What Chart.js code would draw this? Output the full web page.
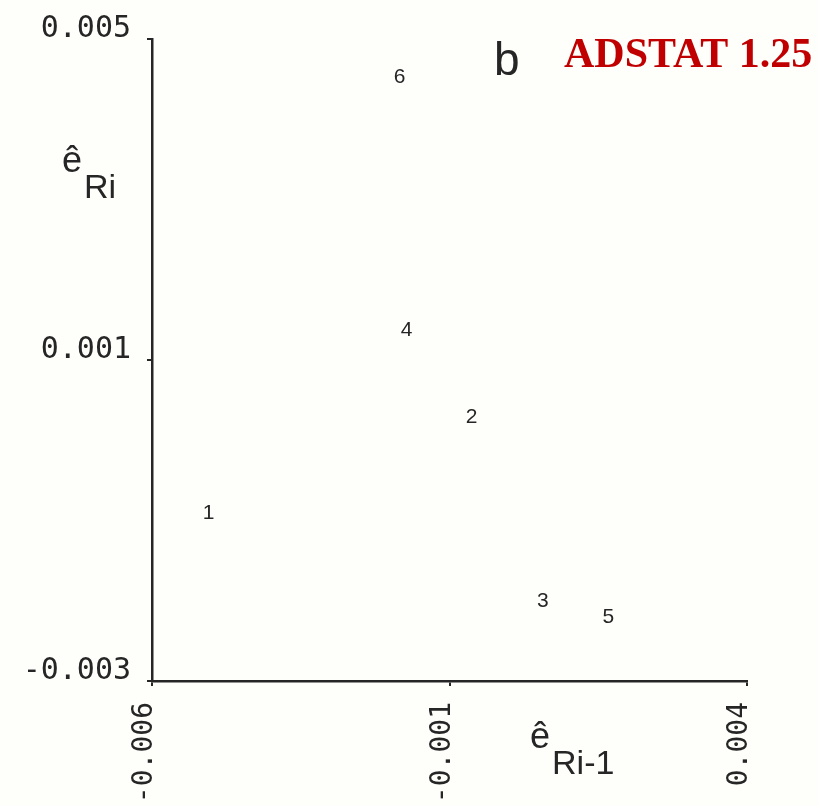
<!DOCTYPE html>
<html>
<head>
<meta charset="utf-8">
<style>
  html, body { margin: 0; padding: 0; background: #fefefb; }
  #wrap { width: 818px; height: 806px; }
</style>
<script src="https://cdn.jsdelivr.net/npm/chart.js@4.4.1/dist/chart.umd.min.js"></script>
</head>
<body>
<div id="wrap"><canvas id="c" width="818" height="806"></canvas></div>
<script>
// Residual vs. lagged residual, observations labelled 1..6
const pointLabels = ['1', '2', '3', '4', '5', '6'];
const laggedResiduals = [-0.00505, -0.00063, 0.00057, -0.00172, 0.00167, -0.00184];
const residuals = [-0.00091, 0.00029, -0.00201, 0.00137, -0.00220, 0.00453];

const xTickValues = [-0.006, -0.001, 0.004];
const xTickLabels = ['-0.006', '-0.001', '0.004'];
const yTickValues = [-0.003, 0.001, 0.005];
const yTickLabels = ['-0.003', '0.001', '0.005'];

const ink = '#262626';
const monoFamily = '"DejaVu Sans Mono", "Liberation Mono", monospace';

const points = laggedResiduals.map((x, i) => ({ x: x, y: residuals[i] }));

const paper = {
  id: 'paper',
  beforeDraw(chart) {
    const ctx = chart.ctx;
    ctx.save();
    ctx.fillStyle = '#fefefb';
    ctx.fillRect(0, 0, chart.width, chart.height);
    ctx.restore();
  }
};

// Each observation is drawn as its number, centred on the data position
const numberMarks = {
  id: 'numberMarks',
  afterDatasetsDraw(chart) {
    const ctx = chart.ctx;
    const meta = chart.getDatasetMeta(0);
    ctx.save();
    ctx.fillStyle = ink;
    ctx.font = '21px "Liberation Sans", Arial, sans-serif';
    ctx.textAlign = 'center';
    ctx.textBaseline = 'middle';
    meta.data.forEach((el, i) => {
      ctx.fillText(pointLabels[i], el.x, el.y);
    });
    ctx.restore();
  }
};

function hatLabel(ctx, x, y, sub) {
  ctx.font = '36px "Liberation Sans", Arial, sans-serif';
  ctx.textAlign = 'left';
  ctx.textBaseline = 'alphabetic';
  ctx.fillText('ê', x, y);
  const w = ctx.measureText('ê').width;
  ctx.font = '34px "Liberation Sans", Arial, sans-serif';
  ctx.fillText(sub, x + w + 2, y + 26);
}

const annotations = {
  id: 'annotations',
  afterDraw(chart) {
    const ctx = chart.ctx;
    ctx.save();
    ctx.fillStyle = ink;
    // axis titles
    hatLabel(ctx, 62, 172, 'Ri');
    hatLabel(ctx, 530, 748, 'Ri-1');
    // panel letter
    ctx.font = '46px "Liberation Sans", Arial, sans-serif';
    ctx.textAlign = 'left';
    ctx.textBaseline = 'alphabetic';
    ctx.fillText('b', 494, 75);
    // program stamp
    ctx.fillStyle = '#c00000';
    ctx.font = 'bold 42px "Liberation Serif", "Times New Roman", serif';
    ctx.fillText('ADSTAT 1.25', 564, 67);
    ctx.restore();
  }
};

new Chart(document.getElementById('c'), {
  type: 'scatter',
  data: {
    datasets: [{
      data: points,
      pointRadius: 0,
      pointHoverRadius: 0,
      showLine: false
    }]
  },
  options: {
    responsive: false,
    animation: false,
    events: [],
    layout: { padding: { top: 39, right: 71, left: 0, bottom: 0 } },
    plugins: { legend: { display: false }, tooltip: { enabled: false }, title: { display: false } },
    scales: {
      x: {
        type: 'linear',
        min: -0.006,
        max: 0.004,
        afterBuildTicks(scale) { scale.ticks = xTickValues.map(v => ({ value: v })); },
        afterFit(scale) { scale.height = 125; },
        border: { display: true, color: ink, width: 2.5 },
        grid: { drawOnChartArea: false, drawTicks: true, tickLength: 5, color: ink, lineWidth: 2 },
        ticks: {
          minRotation: 90,
          maxRotation: 90,
          autoSkip: false,
          padding: 16,
          labelOffset: -7,
          color: ink,
          font: { family: monoFamily, size: 28 },
          callback(value) {
            const i = xTickValues.findIndex(v => Math.abs(v - value) < 1e-9);
            return i >= 0 ? xTickLabels[i] : '';
          }
        }
      },
      y: {
        type: 'linear',
        min: -0.003,
        max: 0.005,
        afterBuildTicks(scale) { scale.ticks = yTickValues.map(v => ({ value: v })); },
        afterFit(scale) { scale.width = 152; },
        border: { display: true, color: ink, width: 2.5 },
        grid: { drawOnChartArea: false, drawTicks: true, tickLength: 5, color: ink, lineWidth: 2 },
        ticks: {
          autoSkip: false,
          padding: 16,
          labelOffset: -10,
          color: ink,
          font: { family: monoFamily, size: 30 },
          callback(value) {
            const i = yTickValues.findIndex(v => Math.abs(v - value) < 1e-9);
            return i >= 0 ? yTickLabels[i] : '';
          }
        }
      }
    }
  },
  plugins: [paper, numberMarks, annotations]
});
</script>
</body>
</html>
